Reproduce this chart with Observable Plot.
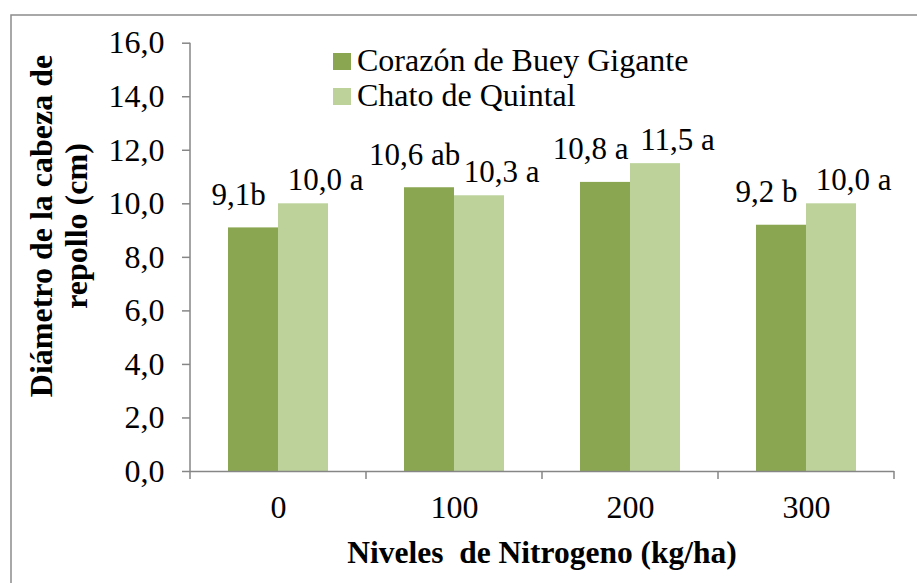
<!DOCTYPE html>
<html>
<head>
<meta charset="utf-8">
<script src="https://cdn.jsdelivr.net/npm/d3@7"></script>
<script src="https://cdn.jsdelivr.net/npm/@observablehq/plot@0.6"></script>
<style>
  html, body { margin: 0; padding: 0; background: white; }
  #chart { width: 917px; height: 583px; }
</style>
</head>
<body>
<div id="chart"></div>
<script>
const categories = ["0", "100", "200", "300"];
const series = ["Corazón de Buey Gigante", "Chato de Quintal"];
const valuesCorazon = [9.1, 10.6, 10.8, 9.2];
const valuesChato = [10.0, 10.3, 11.5, 10.0];
const labelsCorazon = ["9,1b", "10,6 ab", "10,8 a", "9,2 b"];
const labelsChato = ["10,0 a", "10,3 a", "11,5 a", "10,0 a"];
const yTicks = [0, 2, 4, 6, 8, 10, 12, 14, 16];
const colors = ["#8ba651", "#bcd29a"];
const xTitle = "Niveles  de Nitrogeno (kg/ha)";
const yTitleLines = ["Diámetro de la cabeza de", "repollo (cm)"];

const rowsA = categories.map((c, i) => ({cat: c, series: series[0], value: valuesCorazon[i], label: labelsCorazon[i]}));
const rowsB = categories.map((c, i) => ({cat: c, series: series[1], value: valuesChato[i], label: labelsChato[i]}));
const rows = rowsA.concat(rowsB);

const FONT = "Liberation Serif";
const AXIS_GRAY = "#868686";

const plot = Plot.plot({
  width: 917,
  height: 583,
  marginLeft: 189,
  marginRight: 23,
  marginTop: 42.7,
  marginBottom: 112,
  style: "font-family: 'Liberation Serif'; font-size: 32px; color: black; background: white; overflow: visible;",
  fx: {domain: categories, padding: 0, label: null},
  x: {domain: series, paddingInner: 0, paddingOuter: 0.745, axis: null},
  y: {domain: [0, 16], label: null},
  color: {domain: series, range: colors},
  marks: [
    Plot.axisY({ticks: yTicks, tickSize: 8, tickPadding: 18, fontSize: 32, stroke: AXIS_GRAY, strokeWidth: 1.5,
      tickFormat: d => d.toFixed(1).replace(".", ","), label: null}),
    Plot.axisFx({anchor: "bottom", tickSize: 0, tickPadding: 24, fontSize: 32, label: null}),
    Plot.barY(rows, {fx: "cat", x: "series", y: "value", fill: "series"}),
    Plot.ruleY([0], {stroke: AXIS_GRAY, strokeWidth: 1.5}),
    Plot.text(rowsA, {fx: "cat", x: "series", y: "value", text: "label", lineAnchor: "bottom", dx: -15, dy: -23, fontSize: 31, fill: "black"}),
    Plot.text(rowsB, {fx: "cat", x: "series", y: "value", text: "label", lineAnchor: "bottom", dx: 22, dy: -14, fontSize: 31, fill: "black"})
  ]
});

document.getElementById("chart").appendChild(plot);

const svg = d3.select(plot);
svg.selectAll("text").attr("font-family", FONT).style("font-family", FONT);

const fxs = plot.scale("fx");
const ys = plot.scale("y");
const y0 = ys.apply(0);
const yTop = ys.apply(16);
const xLeft = fxs.apply(categories[0]);
const xRight = fxs.apply(categories[categories.length - 1]) + fxs.bandwidth;

// outer chart border
svg.insert("rect", ":first-child")
  .attr("x", 11).attr("y", 15).attr("width", 917).attr("height", 583)
  .attr("fill", "white").attr("stroke", "#8c8c8c").attr("stroke-width", 1.5);

// y axis line
svg.append("line")
  .attr("x1", xLeft).attr("x2", xLeft).attr("y1", yTop).attr("y2", y0 + 0.75)
  .attr("stroke", AXIS_GRAY).attr("stroke-width", 1.5);

// category boundary ticks
const bounds = categories.map(c => fxs.apply(c)).concat([xRight]);
svg.append("g").selectAll("line").data(bounds).join("line")
  .attr("x1", d => d).attr("x2", d => d).attr("y1", y0).attr("y2", y0 + 8)
  .attr("stroke", AXIS_GRAY).attr("stroke-width", 1.5);

// legend
const lg = svg.append("g");
series.forEach((s, i) => {
  lg.append("rect").attr("x", 333).attr("y", 53 + i * 35).attr("width", 18).attr("height", 17).attr("fill", colors[i]);
  lg.append("text").attr("x", 357).attr("y", 71 + i * 35).attr("fill", "black")
    .attr("font-family", FONT).attr("font-size", 32).attr("text-anchor", "start")
    .text(s);
});

// x title
svg.append("text")
  .attr("x", (xLeft + xRight) / 2).attr("y", 563)
  .attr("text-anchor", "middle").attr("font-family", FONT).attr("font-size", 31.5).attr("font-weight", "bold")
  .style("white-space", "pre")
  .attr("fill", "black")
  .text(xTitle);

// y title (two lines)
yTitleLines.forEach((t, i) => {
  svg.append("text")
    .attr("transform", `translate(${52 + i * 35},226) rotate(-90)`)
    .attr("text-anchor", "middle").attr("font-family", FONT).attr("font-size", 32).attr("font-weight", "bold")
    .attr("fill", "black")
    .text(t);
});
</script>
</body>
</html>
